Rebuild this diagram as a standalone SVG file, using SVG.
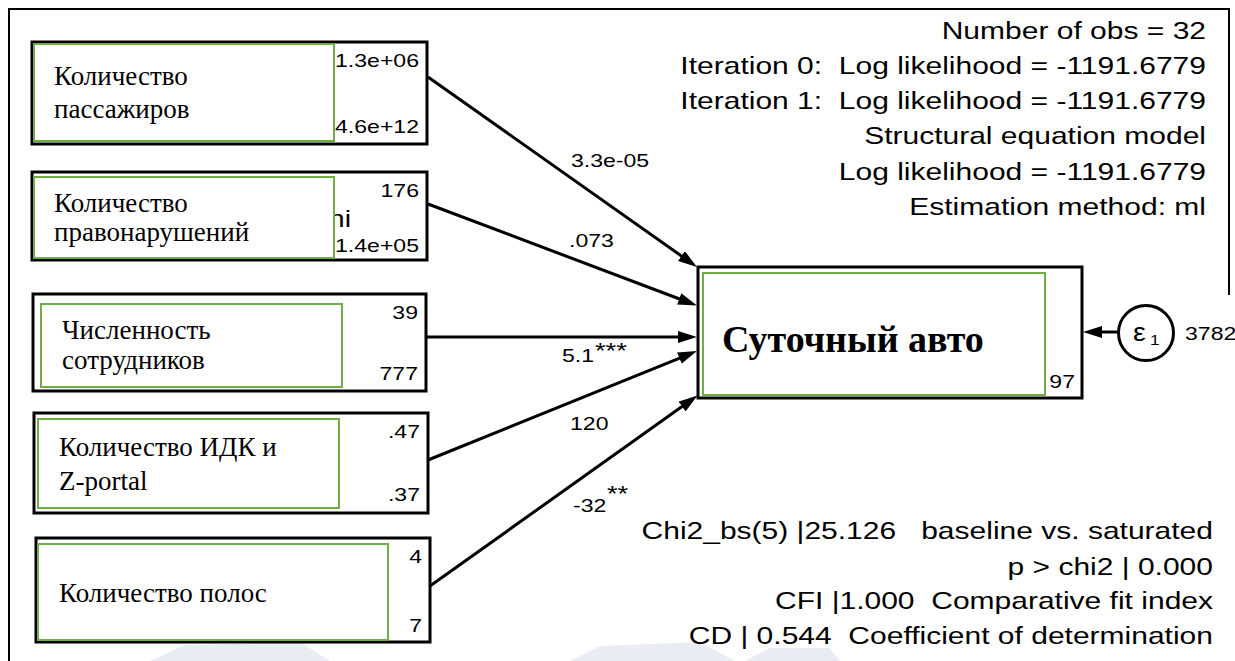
<svg xmlns="http://www.w3.org/2000/svg" width="1235" height="661" viewBox="0 0 1235 661">
<style>
.frame{fill:none;stroke:#000;stroke-width:2}
.box{fill:#fff;stroke:#000;stroke-width:3}
.inner{fill:#fff;stroke:#70AD47;stroke-width:2}
.lbl{font-family:"Liberation Serif","Times New Roman",serif;font-size:27px;fill:#000}
.big{font-family:"Liberation Serif","Times New Roman",serif;font-size:38px;font-weight:bold;fill:#000}
.num{font-family:"Liberation Sans",Arial,sans-serif;font-size:18.6px;fill:#000}
.st{font-family:"Liberation Sans",Arial,sans-serif;font-size:24.2px;fill:#000;text-anchor:end;white-space:pre}
.end{text-anchor:end}
.ast{font-family:"Liberation Sans",Arial,sans-serif;font-size:22px;fill:#000}
.conn{stroke:#000;stroke-width:3;fill:none;marker-end:url(#ah)}
.wm{fill:#e9edf3}
</style>
<defs>
<marker id="ah" markerUnits="userSpaceOnUse" markerWidth="20" markerHeight="12" refX="9" refY="6" orient="auto">
<path d="M0,0 L19,6 L0,12 z" fill="#000"/>
</marker>
</defs>
<rect width="1235" height="661" fill="#fff"/>
<g id="watermark">
<path class="wm" d="M150,661 L185,645 L300,642 L330,661 Z"/>
<path class="wm" d="M570,661 L600,646 L700,642 L735,661 Z"/>
<path class="wm" d="M745,661 L770,648 L830,648 L840,661 Z"/>
</g>
<g id="frame">
<path class="frame" d="M9,661 V9 H1229 V295"/>
</g>
<g id="stats" xml:space="preserve">
<text class="st" transform="translate(1206,39) scale(1.24,1)">Number of obs = 32</text>
<text class="st" transform="translate(1206,74) scale(1.24,1)">Iteration 0:  Log likelihood = -1191.6779</text>
<text class="st" transform="translate(1206,109) scale(1.24,1)">Iteration 1:  Log likelihood = -1191.6779</text>
<text class="st" transform="translate(1206,144) scale(1.24,1)">Structural equation model</text>
<text class="st" transform="translate(1206,180) scale(1.24,1)">Log likelihood = -1191.6779</text>
<text class="st" transform="translate(1206,215) scale(1.24,1)">Estimation method: ml</text>
<text class="st" transform="translate(1213,539) scale(1.24,1)">Chi2_bs(5) |25.126   baseline vs. saturated</text>
<text class="st" transform="translate(1213,575) scale(1.24,1)">p &gt; chi2 | 0.000</text>
<text class="st" transform="translate(1213,609) scale(1.24,1)">CFI |1.000  Comparative fit index</text>
<text class="st" transform="translate(1213,644) scale(1.24,1)">CD | 0.544  Coefficient of determination</text>
</g>
<g id="connectors">
<line class="conn" x1="428" y1="77" x2="688.8" y2="261.2"/>
<line class="conn" x1="428" y1="204" x2="687.6" y2="302"/>
<line class="conn" x1="426" y1="337" x2="687" y2="337"/>
<line class="conn" x1="428" y1="460" x2="687.7" y2="354.8"/>
<line class="conn" x1="430" y1="586" x2="689.4" y2="401.3"/>
<line class="conn" x1="1119.5" y1="332" x2="1093" y2="332"/>
<text class="num" transform="translate(571,167) scale(1.24,1)">3.3e-05</text>
<text class="num" transform="translate(569,247) scale(1.24,1)">.073</text>
<text class="num" transform="translate(562,362) scale(1.24,1)">5.1</text>
<text class="ast" transform="translate(595,357.5) scale(1.24,1)">***</text>
<text class="num" transform="translate(570,430) scale(1.24,1)">120</text>
<text class="num" transform="translate(573,512) scale(1.24,1)">-32</text>
<text class="ast" transform="translate(607,501) scale(1.24,1)">**</text>
</g>
<g id="n1">
<rect class="box" x="32" y="42" width="395" height="102"/>
<rect class="inner" x="34" y="44" width="300" height="97"/>
<text class="lbl" x="54" y="85">Количество</text>
<text class="lbl" x="54" y="118">пассажиров</text>
<text class="num end" transform="translate(419,67) scale(1.24,1)">1.3e+06</text>
<text class="num end" transform="translate(419,133) scale(1.24,1)">4.6e+12</text>
</g>
<g id="n2">
<rect class="box" x="32" y="172" width="395" height="88"/>
<text class="num end" transform="translate(351,227) scale(1.24,1)" style="font-size:23px">ni</text>
<rect class="inner" x="34" y="177" width="300" height="81"/>
<text class="lbl" x="54" y="212">Количество</text>
<text class="lbl" x="54" y="241">правонарушений</text>
<text class="num end" transform="translate(419,197) scale(1.24,1)">176</text>
<text class="num end" transform="translate(419,252) scale(1.24,1)">1.4e+05</text>
</g>
<g id="n3">
<rect class="box" x="33" y="294" width="393" height="97"/>
<rect class="inner" x="41" y="304" width="301" height="83"/>
<text class="lbl" x="62" y="339">Численность</text>
<text class="lbl" x="62" y="369">сотрудников</text>
<text class="num end" transform="translate(418,319) scale(1.24,1)">39</text>
<text class="num end" transform="translate(418,380) scale(1.24,1)">777</text>
</g>
<g id="n4">
<rect class="box" x="34" y="413" width="394" height="100"/>
<rect class="inner" x="38" y="419" width="301" height="89"/>
<text class="lbl" x="59" y="456">Количество ИДК и</text>
<text class="lbl" x="59" y="490">Z-portal</text>
<text class="num end" transform="translate(420,438) scale(1.24,1)">.47</text>
<text class="num end" transform="translate(420,501) scale(1.24,1)">.37</text>
</g>
<g id="n5">
<rect class="box" x="36" y="538" width="394" height="104"/>
<rect class="inner" x="38" y="544" width="350" height="96"/>
<text class="lbl" x="59" y="602">Количество полос</text>
<text class="num end" transform="translate(422,563) scale(1.24,1)">4</text>
<text class="num end" transform="translate(422,632) scale(1.24,1)">7</text>
</g>
<g id="target">
<rect class="box" x="698" y="267" width="384" height="131"/>
<rect class="inner" x="703" y="273" width="342" height="122"/>
<text class="big" x="722" y="352">Суточный авто</text>
<text class="num end" transform="translate(1075,388) scale(1.24,1)">97</text>
</g>
<g id="e1">
<ellipse cx="1146" cy="333" rx="27.5" ry="27.5" fill="#fff" stroke="#000" stroke-width="3"/>
<text class="num" transform="translate(1133,341) scale(1.15,1)" style="font-size:25px">ε</text>
<text class="num" transform="translate(1150,345) scale(1.24,1)" style="font-size:14px">1</text>
<text class="num" transform="translate(1185,340) scale(1.24,1)">3782</text>
</g>
</svg>
